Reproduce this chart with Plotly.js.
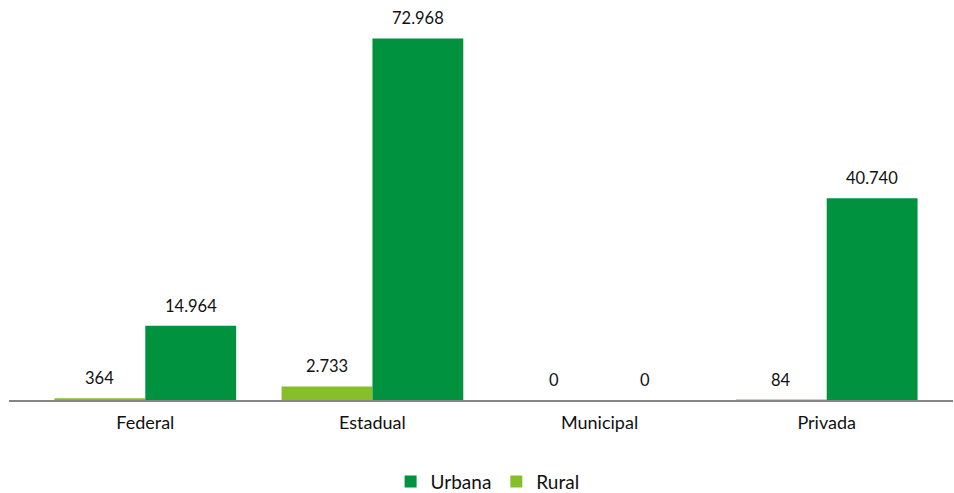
<!DOCTYPE html>
<html>
<head>
<meta charset="utf-8">
<script src="https://cdn.plot.ly/plotly-3.0.1.min.js"></script>
<style>html,body{margin:0;padding:0;background:#fff;}#chart{width:954px;height:493px;}</style>
</head>
<body>
<div id="chart"></div>
<script>
const categories = ["Federal", "Estadual", "Municipal", "Privada"];
const rural = [364, 2733, 0, 84];
const urbana = [14964, 72968, 0, 40740];
const seriesNames = ["Rural", "Urbana"];

const fmt = v => String(v).replace(/\B(?=(\d{3})+(?!\d))/g, ".");
const font = "Lato, 'Open Sans', sans-serif";

const traces = [
  {type: "bar", name: seriesNames[0], x: categories, y: rural,
   marker: {color: "#86BF2A"}, hoverinfo: "skip"},
  {type: "bar", name: seriesNames[1], x: categories, y: urbana,
   marker: {color: "#00923F"}, hoverinfo: "skip"}
];

const annotations = [];
[rural, urbana].forEach((vals, s) => {
  vals.forEach((v, i) => {
    annotations.push({
      x: i + (s === 0 ? -0.2 : 0.2), y: v, xref: "x", yref: "y",
      text: fmt(v), showarrow: false, yanchor: "bottom", yshift: 8,
      font: {family: font, size: 16.5, color: "#111"}
    });
  });
});

const layout = {
  width: 954, height: 493,
  margin: {l: 9, r: 1, t: 20, b: 93, autoexpand: false},
  paper_bgcolor: "#fff", plot_bgcolor: "#fff",
  barmode: "group", bargap: 0.2, bargroupgap: 0,
  font: {family: font, size: 16, color: "#111"},
  xaxis: {type: "category", range: [-0.6, 3.556], showline: true,
          linecolor: "#868686", linewidth: 1.5, ticks: "", showgrid: false,
          automargin: false,
          ticklabelstandoff: 6, tickfont: {family: font, size: 18, color: "#111"}},
  yaxis: {range: [0, 76700], showgrid: false, zeroline: false,
          showticklabels: false, ticks: "", automargin: false},
  showlegend: true,
  legend: {orientation: "h", x: 0.507, xanchor: "center", xref: "paper",
           y: -0.215, yanchor: "middle", traceorder: "reversed",
           font: {family: font, size: 19, color: "#111"}},
  annotations: annotations
};

Plotly.newPlot("chart", traces, layout, {displayModeBar: false, staticPlot: true});
</script>
</body>
</html>
